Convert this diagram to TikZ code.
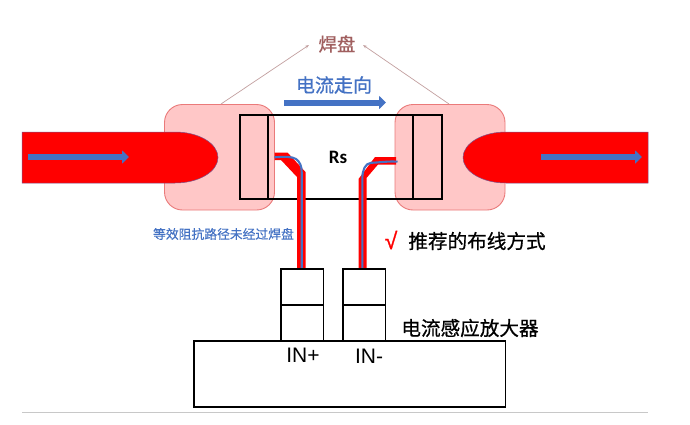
\documentclass[tikz,border=0pt]{standalone}
\usepackage{fontspec}
\setmainfont[FakeBold=0.25]{Noto Sans CJK SC}
\newfontfamily\strongcjk[FakeBold=0.7]{Noto Sans CJK SC}
\newfontfamily\latinfont{Liberation Sans}
\newfontfamily\tickfont[FakeBold=1.2]{Liberation Sans}
\newfontfamily\rsfont{Carlito}
\definecolor{padfill}{HTML}{FFC7C7}
\definecolor{padline}{HTML}{EA7A7A}
\definecolor{tracered}{HTML}{FF0000}
\definecolor{bluecur}{HTML}{4472C4}
\definecolor{brownlab}{HTML}{A05F5F}
\definecolor{leader}{HTML}{C3A0A0}
\definecolor{rulegrey}{HTML}{C8C8C8}
\usetikzlibrary{arrows.meta}
\tikzset{
  pad/.style={draw=padline,line width=0.9pt,fill=padfill,rounded corners=18pt},
  outline/.style={draw=black,line width=1.4pt},
  bodybox/.style={draw=black,line width=1.8pt,fill=white,inner sep=0pt},
  flowarrow/.style={-{Triangle[length=7pt,width=13pt]},draw=bluecur,line width=6pt},
  wirecore/.style={draw=bluecur,line width=2.1pt},
  wireband/.style={fill=tracered,draw=none},
  copper/.style={fill=tracered,draw=bluecur!70!tracered,line width=0.5pt},
  leaderline/.style={draw=leader,line width=0.7pt,-{Stealth[length=4pt,width=3pt]}},
  lab/.style={inner sep=0pt,outer sep=0pt,anchor=center}
}
\begin{document}
\begin{tikzpicture}[x=1pt,y=-1pt]
\useasboundingbox[fill=white] (0,0) rectangle (690,424);
% pads
\path[pad] (164.5,104.5) rectangle (274.5,210);
\path[pad] (395,104.5) rectangle (505,210);
% copper traces
\path[copper] (22,132) -- (175,132) .. controls (199,132) and (218,143.6) .. (218,157.5) .. controls (218,171.4) and (199,183) .. (175,183) -- (22,183) -- cycle;
\path[copper] (648,132) -- (506,132) .. controls (482,132) and (463,143.6) .. (463,157.5) .. controls (463,171.4) and (482,183) .. (506,183) -- (648,183) -- cycle;
% resistor
\draw[outline] (240,115) rectangle (442,199);
\draw[outline] (268,115) -- (268,199);
\draw[outline] (413,115) -- (413,199);
% sense traces
\path[wireband] (274.5,152.5) -- (287.5,152.5) -- (305.5,172) -- (305.5,269) -- (297,269) -- (297,177) -- (281,160) -- (274.5,160) -- cycle;
\path[wireband] (396,157) -- (375,157) -- (358.5,179) -- (358.5,269) -- (366.5,269) -- (366.5,178) -- (378,164.5) -- (396,164.5) -- cycle;
\draw[wirecore] (274.5,157.3) .. controls (285,156.5) and (292,156.5) .. (296,159) .. controls (300,162) and (301.7,166) .. (301.7,172) -- (301.7,269);
\draw[wirecore] (397.5,161.7) .. controls (388,161) and (380,162.5) .. (371,162.8) .. controls (365,163.5) and (362.5,170) .. (362.3,178) -- (362.3,269);
% amplifier
\node[bodybox,minimum width=311.5pt,minimum height=66.5pt] (amp) at (349.7,374) {};
\node[bodybox,minimum width=42.5pt,minimum height=71.5pt] (inp) at (302.3,305) {};
\node[bodybox,minimum width=42.5pt,minimum height=71.5pt] (inn) at (364.3,305) {};
\draw[outline] (inp.west) -- (inp.east);
\draw[outline] (inn.west) -- (inn.east);
% current arrows
\coordinate (la) at (28,157);\coordinate (lb) at (129,157);
\coordinate (ra) at (541,157);\coordinate (rb) at (642,157);
\coordinate (ta) at (284,102.5);\coordinate (tb) at (386,102.5);
\draw[flowarrow] (la) -- (lb);
\draw[flowarrow] (ra) -- (rb);
\draw[flowarrow] (ta) -- (tb);
% labels
\node[lab,text=brownlab,font=\strongcjk\fontsize{18.5}{20}\selectfont] (hp) at (337,44) {焊盘};
\coordinate (hl) at (221,104);\coordinate (hr) at (449,104);
\draw[leaderline] (hl) -- (309,45);
\draw[leaderline] (hr) -- (363,45);
\node[lab,text=bluecur,font=\strongcjk\fontsize{19}{20}\selectfont] (dir) at (334,85) {电流走向};
\node[lab,font=\rsfont\bfseries\fontsize{19}{20}\selectfont] (rs) at (338,157) {Rs};
\node[lab,text=bluecur,font=\fontsize{12.8}{14}\selectfont] (eq) at (223.5,234) {等效阻抗路径未经过焊盘};
\node[lab,text=tracered,font=\tickfont\fontsize{23}{24}\selectfont] (ok) at (391,240) {√};
\node[lab,font=\strongcjk\fontsize{19.6}{22}\selectfont] (rec) at (477,241) {推荐的布线方式};
\node[lab,font=\strongcjk\fontsize{19.6}{22}\selectfont] (ampl) at (470,328) {电流感应放大器};
\node[lab,font=\latinfont\fontsize{21}{22}\selectfont] (inpl) at (303,355) {IN+};
\node[lab,font=\latinfont\fontsize{21}{22}\selectfont] (innl) at (369,356.5) {IN-};
% rule
\coordinate (ga) at (22,412.7);\coordinate (gb) at (648,412.7);
\draw[rulegrey,line width=1pt] (ga) -- (gb);
\end{tikzpicture}
\end{document}
